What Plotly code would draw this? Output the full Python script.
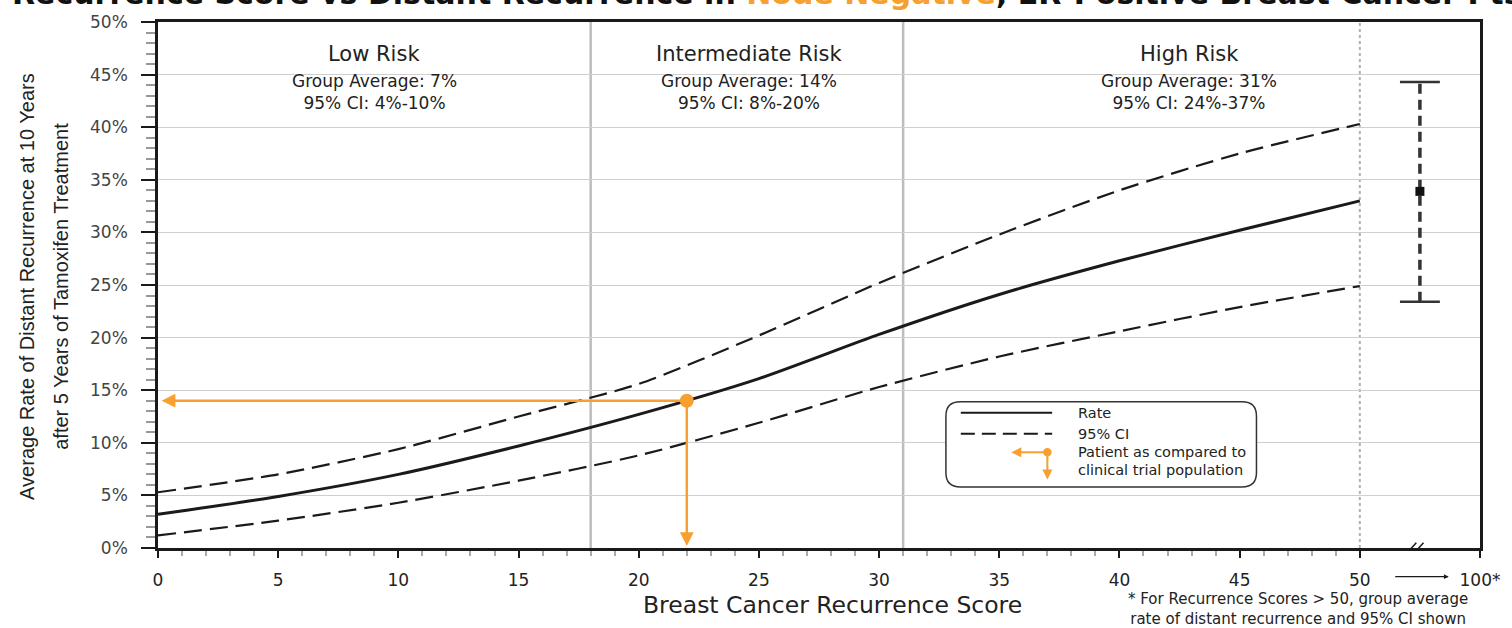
import plotly.graph_objects as go

# ---------------- data ----------------
score = [0, 5, 10, 15, 20, 25, 30, 35, 40, 45, 50]
rate = [3.2, 4.9, 7.0, 9.7, 12.7, 16.1, 20.3, 24.1, 27.3, 30.2, 33.0]
ci_upper = [5.3, 7.0, 9.4, 12.5, 15.6, 20.2, 25.2, 29.8, 34.0, 37.5, 40.3]
ci_lower = [1.2, 2.6, 4.3, 6.4, 8.8, 11.9, 15.3, 18.2, 20.6, 22.9, 24.9]

patient_score = 22
patient_rate = 14.0

gt50_x = 52.5
gt50_avg = 33.9
gt50_hi = 44.3
gt50_lo = 23.4

risk_bounds = [18, 31]
risk_labels = ["Low Risk", "Intermediate Risk", "High Risk"]
risk_centers = [9.0, 24.6, 42.9]
group_avg = ["7%", "14%", "31%"]
group_ci = ["4%-10%", "8%-20%", "24%-37%"]

x_tickvals = [0, 5, 10, 15, 20, 25, 30, 35, 40, 45, 50, 55]
x_ticktext = ["0", "5", "10", "15", "20", "25", "30", "35", "40", "45", "50", "100*"]
y_tickvals = list(range(0, 51, 5))
y_ticktext = [f"{v}%" for v in y_tickvals]

ORANGE = "#F7A030"
DARK = "#1a1a1a"
FONT = "DejaVu Sans, Liberation Sans, Arial, sans-serif"
FONT_ARIAL = "Liberation Sans, Arial, sans-serif"

fig = go.Figure()

fig.add_trace(go.Scatter(x=score, y=ci_upper, mode="lines", line=dict(color=DARK, width=2.2, dash="18px,8px", shape="spline", smoothing=0.7), hoverinfo="skip"))
fig.add_trace(go.Scatter(x=score, y=ci_lower, mode="lines", line=dict(color=DARK, width=2.2, dash="18px,8px", shape="spline", smoothing=0.7), hoverinfo="skip"))
fig.add_trace(go.Scatter(x=score, y=rate, mode="lines", line=dict(color=DARK, width=3, shape="spline", smoothing=0.7), hoverinfo="skip"))

# >50 group error bar
fig.add_trace(go.Scatter(x=[gt50_x, gt50_x], y=[gt50_lo, gt50_hi], mode="lines",
                         line=dict(color="#333", width=3.5, dash="10px,6px"), hoverinfo="skip"))
for yv in [gt50_lo, gt50_hi]:
    fig.add_trace(go.Scatter(x=[gt50_x - 0.83, gt50_x + 0.83], y=[yv, yv], mode="lines",
                             line=dict(color="#333", width=2.5), hoverinfo="skip"))
fig.add_trace(go.Scatter(x=[gt50_x], y=[gt50_avg], mode="markers",
                         marker=dict(symbol="square", size=9, color="#111"), hoverinfo="skip"))

# patient point
fig.add_trace(go.Scatter(x=[patient_score], y=[patient_rate], mode="markers",
                         marker=dict(size=14, color=ORANGE), hoverinfo="skip"))

shapes = []
for b in risk_bounds:
    shapes.append(dict(type="line", xref="x", yref="y", x0=b, x1=b, y0=0, y1=50,
                       line=dict(color="#bdbdbd", width=2.5), layer="below"))
shapes.append(dict(type="line", xref="x", yref="y", x0=50, x1=50, y0=0, y1=50,
                   line=dict(color="#b0b0b0", width=2, dash="dot"), layer="below"))

# legend box (rounded)
x0, x1, y0, y1 = 32.78, 45.7, 5.8, 13.9
rx, ry = 0.6, 1.35
path = (f"M {x0+rx},{y1} L {x1-rx},{y1} Q {x1},{y1} {x1},{y1-ry} L {x1},{y0+ry} "
        f"Q {x1},{y0} {x1-rx},{y0} L {x0+rx},{y0} Q {x0},{y0} {x0},{y0+ry} "
        f"L {x0},{y1-ry} Q {x0},{y1} {x0+rx},{y1} Z")
shapes.append(dict(type="path", xref="x", yref="y", path=path, fillcolor="white",
                   line=dict(color="#333", width=1.5)))
shapes.append(dict(type="line", xref="x", yref="y", x0=33.4, x1=37.2, y0=12.85, y1=12.85,
                   line=dict(color=DARK, width=2)))
shapes.append(dict(type="line", xref="x", yref="y", x0=33.4, x1=37.2, y0=10.85, y1=10.85,
                   line=dict(color=DARK, width=2, dash="14px,7px")))
shapes.append(dict(type="line", xref="x", yref="y", x0=37.0, x1=37.0, y0=9.1, y1=6.9,
                   line=dict(color=ORANGE, width=2)))
shapes.append(dict(type="line", xref="x", yref="y", x0=37.0, x1=35.8, y0=9.1, y1=9.1,
                   line=dict(color=ORANGE, width=2)))
shapes.append(dict(type="circle", xref="x", yref="y", x0=36.82, x1=37.18, y0=8.7, y1=9.5,
                   fillcolor=ORANGE, line=dict(color=ORANGE, width=0)))

# axis break marks
shapes.append(dict(type="rect", xref="x", yref="y", x0=52.05, x1=52.55, y0=-0.3, y1=0.3,
                   fillcolor="white", line=dict(width=0)))
for dx in [0.0, 0.3]:
    shapes.append(dict(type="line", xref="x", yref="y", x0=51.95 + dx, x1=52.35 + dx, y0=-0.5, y1=0.5,
                       line=dict(color=DARK, width=1.5)))

annotations = []
for c, lab, ga, ci in zip(risk_centers, risk_labels, group_avg, group_ci):
    annotations.append(dict(x=c, y=47.0, xref="x", yref="y", text=lab, showarrow=False,
                            font=dict(size=21, color="#222", family=FONT)))
    annotations.append(dict(x=c, y=43.3, xref="x", yref="y",
                            text=f"Group Average: {ga}<br>95% CI: {ci}", showarrow=False,
                            font=dict(size=17, color="#222", family=FONT)))

# patient arrows
annotations.append(dict(x=0.15, y=patient_rate, xref="x", yref="y", ax=patient_score, ay=patient_rate,
                        axref="x", ayref="y", showarrow=True, arrowhead=2, arrowsize=1.1,
                        arrowwidth=2.5, arrowcolor=ORANGE, text=""))
annotations.append(dict(x=patient_score, y=0.2, xref="x", yref="y", ax=patient_score, ay=patient_rate,
                        axref="x", ayref="y", showarrow=True, arrowhead=2, arrowsize=1.1,
                        arrowwidth=2.5, arrowcolor=ORANGE, text=""))
# legend arrows
annotations.append(dict(x=35.5, y=9.1, xref="x", yref="y", ax=36.0, ay=9.1,
                        axref="x", ayref="y", showarrow=True, arrowhead=2, arrowsize=1,
                        arrowwidth=2, arrowcolor=ORANGE, text=""))
annotations.append(dict(x=37.0, y=6.5, xref="x", yref="y", ax=37.0, ay=7.2,
                        axref="x", ayref="y", showarrow=True, arrowhead=2, arrowsize=1,
                        arrowwidth=2, arrowcolor=ORANGE, text=""))
# legend text
for yv, t in [(12.85, "Rate"), (10.85, "95% CI"), (9.1, "Patient as compared to"), (7.4, "clinical trial population")]:
    annotations.append(dict(x=38.2, y=yv, xref="x", yref="y", text=t, showarrow=False,
                            xanchor="left", font=dict(size=14.5, color="#222", family=FONT)))

# 50 -> 100 arrow
annotations.append(dict(x=53.7, y=-0.0546, xref="x", yref="paper", ax=-55, ay=0,
                        showarrow=True, arrowhead=2, arrowsize=0.8, arrowwidth=1.2,
                        arrowcolor=DARK, text=""))

# axis titles
annotations.append(dict(x=(835 - 158) / 1326, y=(548 - 606) / 531, xref="paper", yref="paper",
                        xanchor="center", yanchor="middle",
                        text="Breast Cancer Recurrence Score", showarrow=False,
                        font=dict(size=23.5, color="#222", family=FONT)))
for xp, line in [(27, "Average Rate of Distant Recurrence at 10 Years"),
                 (61, "after 5 Years of Tamoxifen Treatment")]:
    annotations.append(dict(x=(xp - 158) / 1326, y=(548 - 284) / 531, xref="paper", yref="paper",
                            xanchor="center", yanchor="middle", text=line,
                            showarrow=False, textangle=-90,
                            font=dict(size=20, color="#222", family=FONT_ARIAL)))
# footnote
annotations.append(dict(x=(1301 - 158) / 1326, y=(548 - 610) / 531, xref="paper", yref="paper",
                        xanchor="center", yanchor="middle",
                        text="* For Recurrence Scores > 50, group average<br>rate of distant recurrence and 95% CI shown",
                        showarrow=False, font=dict(size=15, color="#222", family=FONT)))
# title (cut off at top, as in the reference)
annotations.append(dict(x=(10 - 158) / 1326, y=(548 - 8) / 531, xref="paper", yref="paper",
                        xanchor="left", yanchor="bottom", showarrow=False,
                        text=("<b>Recurrence Score vs Distant Recurrence in "
                              f"<span style='color:{ORANGE}'>Node Negative</span>"
                              ", ER-Positive Breast Cancer Pts</b>"),
                        font=dict(size=30, color="#111", family=FONT)))

fig.update_layout(
    width=1512, height=628,
    margin=dict(l=158, r=28, t=17, b=80),
    paper_bgcolor="white", plot_bgcolor="white",
    showlegend=False,
    shapes=shapes, annotations=annotations,
    xaxis=dict(range=[0, 55], tickmode="array", tickvals=x_tickvals, ticktext=x_ticktext,
               showgrid=False, zeroline=False, showline=True, linecolor=DARK, linewidth=2.5,
               mirror=True, ticks="outside", ticklen=7, tickwidth=2, tickcolor=DARK,
               ticklabelstandoff=8,
               tickfont=dict(size=17, color="#222", family=FONT),
               minor=dict(tickmode="array", tickvals=list(range(0, 51)), ticks="outside",
                          ticklen=5, tickwidth=1.5, tickcolor="#aaa")),
    yaxis=dict(range=[0, 50], tickmode="array", tickvals=y_tickvals, ticktext=y_ticktext,
               showgrid=True, gridcolor="#cfcfcf", gridwidth=1.2, zeroline=False,
               showline=True, linecolor=DARK, linewidth=2.5, mirror=True,
               ticks="outside", ticklen=14, tickwidth=2, tickcolor=DARK,
               ticklabelstandoff=10,
               tickfont=dict(size=17, color="#444", family=FONT),
               minor=dict(tickmode="array", tickvals=list(range(0, 51)), ticks="outside",
                          ticklen=9, tickwidth=1.5, tickcolor="#999")),
)

fig.write_html("out.html", config={"displayModeBar": False},
               post_script="document.body.style.margin='0px';document.body.style.overflow='hidden';")
